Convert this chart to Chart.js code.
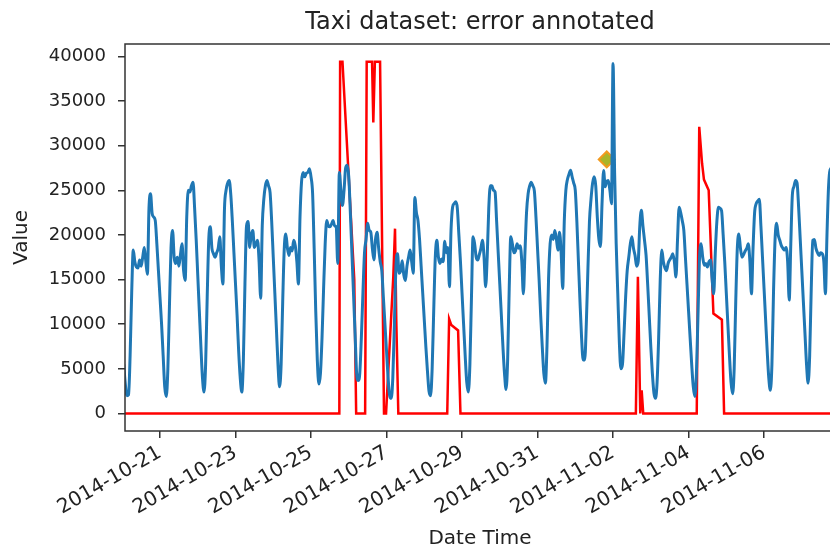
<!DOCTYPE html>
<html>
<head>
<meta charset="utf-8">
<title>Taxi dataset: error annotated</title>
<script src="https://cdn.jsdelivr.net/npm/chart.js@4.4.1/dist/chart.umd.min.js"></script>
<style>
    html, body { margin: 0; padding: 0; background: #fff; overflow: hidden; }
    #wrap { width: 845px; height: 551px; }
</style>
</head>
<body>
<div id="wrap"><canvas id="taxi-chart" width="845" height="551"></canvas></div>
<script>
// hourly taxi counts, one row per day, starting 2014-10-20 00:00
const startDate = "2014-10-20";
const taxiValues = [
    [9000, 5500, 3200, 2000, 2100, 6500, 13500, 18300, 17000, 16400, 16300, 17200, 16500, 17500, 18600, 17000, 15600, 23000, 24600, 22400, 22000, 21600, 19000, 16000],
    [13000, 10000, 6500, 3000, 1900, 5000, 12000, 18500, 20500, 17500, 16800, 17500, 16500, 17800, 19000, 16000, 14900, 22000, 25000, 24800, 25500, 25900, 23000, 19500],
    [15500, 11500, 7500, 4000, 2400, 5500, 13000, 19500, 20900, 18500, 17900, 17500, 18000, 18500, 19800, 16500, 14500, 23000, 25000, 25800, 26100, 24500, 21500, 18000],
    [14500, 11000, 7000, 4000, 2400, 6000, 14500, 21000, 21500, 18600, 20000, 20500, 18600, 19000, 19400, 17000, 12900, 21000, 24000, 25500, 26100, 25500, 24700, 21500],
    [17500, 13500, 9500, 5500, 3000, 5500, 12500, 18500, 20100, 18500, 17700, 18600, 18200, 19400, 18800, 17000, 14500, 22000, 26000, 27000, 26500, 26900, 27000, 27400],
    [26500, 24700, 18500, 11500, 6000, 3300, 4500, 8500, 14000, 19000, 21600, 21000, 20900, 21200, 21600, 21000, 20900, 16800, 27000, 25000, 23300, 25000, 27500, 27800],
    [26500, 22500, 18000, 13500, 9000, 4500, 3700, 4500, 8500, 13500, 18000, 19500, 21300, 20500, 20300, 18500, 17200, 19500, 20300, 18500, 17000, 16000, 13000, 10000],
    [7000, 4000, 2000, 1700, 4000, 10000, 16500, 17900, 15700, 16000, 17100, 15500, 14900, 16500, 17500, 18300, 17000, 15700, 24200, 22500, 21600, 19500, 16500, 13500],
    [10500, 7500, 4800, 2500, 2000, 5000, 11500, 17500, 19400, 17500, 16800, 17300, 17000, 19300, 18000, 18600, 14200, 20500, 23100, 23500, 23700, 23000, 20000, 17000],
    [13500, 10000, 6500, 3500, 2400, 5500, 13000, 19800, 19000, 17500, 17200, 17800, 18500, 19400, 17500, 14200, 17500, 23000, 25500, 25500, 25000, 24800, 21500, 18000],
    [14500, 11000, 7500, 4500, 2700, 6000, 14000, 19800, 19000, 18000, 18200, 19000, 18500, 18800, 17000, 13400, 18000, 22500, 24600, 25500, 25900, 25500, 24900, 22000],
    [18500, 15000, 11000, 7500, 4500, 3400, 7500, 15000, 19000, 20000, 19500, 20500, 19500, 18300, 20300, 18000, 14000, 21500, 25000, 26200, 26800, 27250, 26500, 25800],
    [25000, 21500, 17000, 12500, 8500, 6000, 6000, 10000, 16000, 21500, 24000, 25800, 26500, 25500, 22000, 19500, 18700, 23500, 27200, 25400, 26000, 26100, 25000, 23500],
    [39200, 27000, 19000, 13500, 8000, 5000, 5500, 9000, 13000, 16000, 17500, 19000, 19800, 18500, 17700, 16500, 17000, 21000, 22750, 21000, 19400, 17700, 14500, 11000],
    [7500, 4500, 2300, 1700, 3500, 8500, 15000, 18300, 17000, 16300, 16000, 16800, 17200, 17500, 17900, 17000, 15300, 19500, 23100, 22500, 21600, 20500, 17500, 14500],
    [11500, 8500, 5500, 3000, 1900, 4500, 11000, 17500, 19000, 17500, 16600, 16800, 16400, 17000, 17200, 15000, 13400, 18000, 21500, 23100, 23000, 22700, 20000, 17000],
    [13500, 10000, 6500, 3500, 2200, 5000, 12500, 18500, 20100, 18500, 17500, 17800, 18200, 18500, 19000, 17000, 13400, 18500, 22500, 23500, 23800, 24000, 21000, 17500],
    [14000, 10500, 7000, 4000, 2600, 5500, 13500, 19500, 21300, 20000, 19400, 18800, 18500, 18300, 18600, 17000, 12700, 19000, 24500, 25400, 26100, 25800, 23000, 19500],
    [16000, 12500, 9000, 5500, 3400, 6500, 14000, 19400, 19500, 18500, 18000, 17700, 18000, 17900, 17000, 13400, 20000, 25400, 27300, 27500, 27000, 27000, 26000, 25000],
];

// error annotation (hours since start, value)
const errorHours = [0, 138, 138.5, 140, 147.5, 148.7, 154.4, 155.4, 158.8, 159.6, 160.6, 163.9, 166.4, 167.7, 172.3, 173.4, 174.2, 175.5,
    206.6, 207.8, 209.2, 213.5, 215, 326.5, 327.8, 329.3, 330.2, 331.2,
    365.2, 366.8, 368.6, 369.8, 372.8, 375.8, 381.2, 382.6, 456];
const errorValues = [0, 0, 39400, 39400, 15000, 0, 0, 39400, 39400, 32600, 39400, 39400, 0, 0, 15300, 20700, 10500, 0,
    0, 10600, 9900, 9300, 0, 0, 15300, 0, 2600, 0,
    0, 32100, 28000, 26200, 25000, 11200, 10500, 0, 0];

const markerHours = [308];
const markerValues = [28450];

const dateTicks = ["2014-10-21", "2014-10-23", "2014-10-25", "2014-10-27", "2014-10-29", "2014-10-31", "2014-11-02", "2014-11-04", "2014-11-06"];
const valueTicks = [0, 5000, 10000, 15000, 20000, 25000, 30000, 35000, 40000];

const fontFamily = "'DejaVu Sans', sans-serif";
const textColor = "#222";

function hoursFrom(dateStr) {
    return (Date.parse(dateStr) - Date.parse(startDate)) / 3600000;
}

const taxiPoints = taxiValues.flat().map((v, i) => ({ x: i, y: v }));
const errorPoints = errorHours.map((h, i) => ({ x: h, y: errorValues[i] }));
const markerPoints = markerHours.map((h, i) => ({ x: h, y: markerValues[i] }));
const tickHours = dateTicks.map(hoursFrom);

const framePlugin = {
    id: "frame",
    afterDraw(chart) {
        const { ctx, chartArea } = chart;
        ctx.save();
        ctx.strokeStyle = "#333";
        ctx.lineWidth = 1.5;
        ctx.strokeRect(chartArea.left, chartArea.top, chartArea.right - chartArea.left, chartArea.bottom - chartArea.top);
        ctx.fillStyle = textColor;
        ctx.font = "24px " + fontFamily;
        ctx.textAlign = "center";
        ctx.textBaseline = "middle";
        ctx.fillText("Taxi dataset: error annotated", (chartArea.left + chartArea.right) / 2, 23);
        ctx.restore();
    },
};

new Chart(document.getElementById("taxi-chart"), {
    type: "line",
    data: {
        datasets: [
            {
                label: "value",
                data: taxiPoints,
                borderColor: "#1f77b4",
                borderWidth: 3,
                pointRadius: 0,
                cubicInterpolationMode: "monotone",
            },
            {
                label: "error",
                data: errorPoints,
                borderColor: "#ff0000",
                borderWidth: 2.5,
                pointRadius: 0,
            },
            {
                label: "anomaly",
                data: markerPoints,
                showLine: false,
                pointStyle: "rectRot",
                pointRadius: 8,
                backgroundColor: "#aab52a",
                borderColor: "#f29a1f",
                borderWidth: 2,
            },
        ],
    },
    options: {
        responsive: false,
        animation: false,
        layout: { padding: { top: 44, right: 10, left: 0, bottom: 0 } },
        plugins: {
            legend: { display: false },
            tooltip: { enabled: false },
        },
        scales: {
            x: {
                type: "linear",
                min: 1.75,
                max: 453.1,
                afterFit: (scale) => { scale.height = 120; },
                afterBuildTicks: (scale) => {
                    scale.ticks = tickHours.map((v) => ({ value: v }));
                },
                grid: { drawOnChartArea: false, color: "#333", lineWidth: 1.5, tickLength: 7 },
                border: { display: false },
                ticks: {
                    autoSkip: false,
                    minRotation: 30,
                    maxRotation: 30,
                    color: textColor,
                    font: { family: fontFamily, size: 20 },
                    callback: (value) => dateTicks[tickHours.indexOf(value)],
                },
                title: {
                    display: true,
                    text: "Date Time",
                    color: textColor,
                    font: { family: fontFamily, size: 20 },
                    padding: { top: 0, bottom: 0 },
                },
            },
            y: {
                min: -1960,
                max: 41380,
                afterFit: (scale) => { scale.width = 125; },
                afterBuildTicks: (scale) => {
                    scale.ticks = valueTicks.map((v) => ({ value: v }));
                },
                grid: { drawOnChartArea: false, color: "#333", lineWidth: 1.5, tickLength: 7 },
                border: { display: false },
                ticks: {
                    padding: 12,
                    color: textColor,
                    font: { family: fontFamily, size: 18 },
                    callback: (value) => String(value),
                },
                title: {
                    display: true,
                    text: "Value",
                    color: textColor,
                    font: { family: fontFamily, size: 20 },
                    padding: { top: 10, bottom: 0 },
                },
            },
        },
    },
    plugins: [framePlugin],
});
</script>
</body>
</html>
